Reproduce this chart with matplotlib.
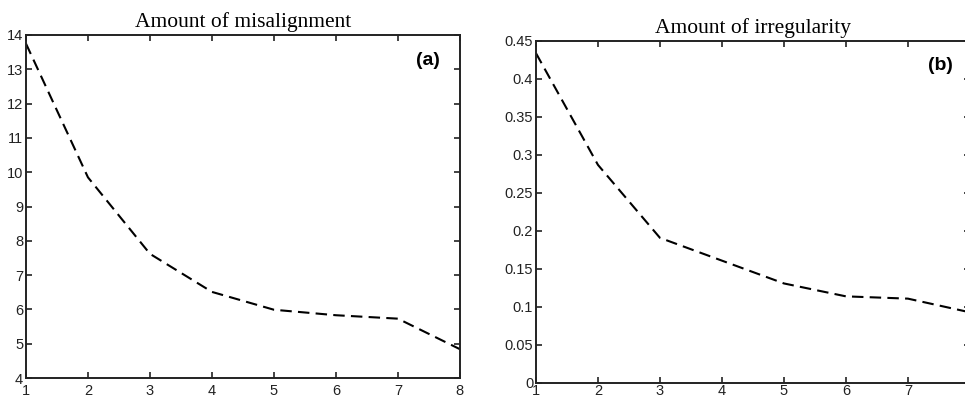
import matplotlib.pyplot as plt
from matplotlib.ticker import FuncFormatter

# values
x = [1, 2, 3, 4, 5, 6, 7, 8]
misalignment = [13.75, 9.85, 7.62, 6.51, 5.99, 5.83, 5.73, 4.84]
irregularity = [0.434, 0.287, 0.191, 0.161, 0.131, 0.114, 0.111, 0.093]

x_ticks = [1, 2, 3, 4, 5, 6, 7, 8]
x_labels_a = ["1", "2", "3", "4", "5", "6", "7", "8"]
x_labels_b = ["1", "2", "3", "4", "5", "6", "7", ""]  # el 8 queda fuera del recorte
ticks_a = [4, 5, 6, 7, 8, 9, 10, 11, 12, 13, 14]
ticks_b = [0, 0.05, 0.1, 0.15, 0.2, 0.25, 0.3, 0.35, 0.4, 0.45]

fig = plt.figure(figsize=(9.65, 4.0), dpi=100)

ax1 = fig.add_axes([0.0269, 0.055, 0.4497, 0.8575])
# el segundo panel sale un poco del borde derecho, como en el original
ax2 = fig.add_axes([0.5554, 0.0425, 0.4497, 0.855])

paneles = [
    (ax1, misalignment, ticks_a, x_labels_a, "Amount of misalignment", "(a)", (0.926, 0.927), 4),
    (ax2, irregularity, ticks_b, x_labels_b, "Amount of irregularity", "(b)", (0.933, 0.927), 0.5),
]

for ax, valores, yticks, xlabels, titulo, letra, pos, xpad in paneles:
    ax.plot(x, valores, color='black', linewidth=1.5, linestyle=(0, (5.5, 3)))
    ax.set_xlim(1, 8)
    ax.set_ylim(yticks[0], yticks[-1])
    ax.set_xticks(x_ticks)
    ax.set_xticklabels(xlabels)
    ax.set_yticks(yticks)
    ax.yaxis.set_major_formatter(FuncFormatter(lambda v, p: "%g" % v))
    ax.tick_params(direction='in', top=True, right=True, length=4, width=1.2,
                   labelsize=10.5, pad=2, colors='#222222')
    ax.tick_params(axis='x', pad=xpad)
    for lab in ax.get_xticklabels() + ax.get_yticklabels():
        lab.set_fontfamily('Liberation Sans')
    for s in ax.spines.values():
        s.set_linewidth(1.4)
        s.set_color('#222222')
    ax.set_title(titulo, fontfamily='Liberation Serif', fontsize=15.5, pad=6)
    ax.text(pos[0], pos[1], letra, transform=ax.transAxes, ha='center', va='center',
            fontfamily='Liberation Sans', fontweight='bold', fontsize=14)

plt.savefig("out.png", dpi=100)
